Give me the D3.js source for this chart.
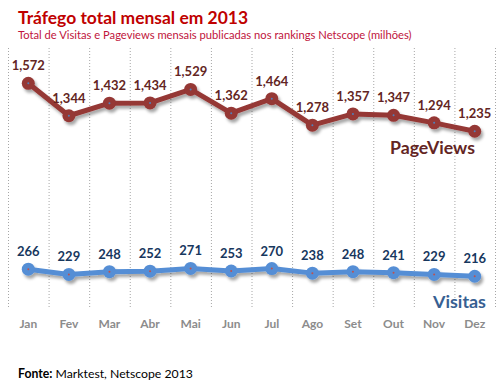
<!DOCTYPE html>
<html lang="pt">
<head>
  <meta charset="UTF-8" />
  <title>Tráfego total mensal em 2013</title>
  <script src="https://d3js.org/d3.v7.min.js"></script>
  <style>
    body { margin: 0; background: #fff; }
    svg { display: block; font-family: Lato, "Open Sans", sans-serif; }
  </style>
</head>
<body>
  <svg width="499" height="388"></svg>
  <script>
    const months = ["Jan", "Fev", "Mar", "Abr", "Mai", "Jun", "Jul", "Ago", "Set", "Out", "Nov", "Dez"];
    const pageviews = [1572, 1344, 1432, 1434, 1529, 1362, 1464, 1278, 1357, 1347, 1294, 1235];
    const visitas = [266, 229, 248, 252, 271, 253, 270, 238, 248, 241, 229, 216];

    const svg = d3.select("svg");

    const x = d3.scaleBand().domain(months).range([8, 495]);
    const y = d3.scaleLinear().domain([0, 1820]).range([307, 48]);
    const cx = d => x(d) + x.bandwidth() / 2;

    // shrink/grow a text to a wanted width
    function fit(t, w) {
      const len = t.node().getComputedTextLength();
      const fs = parseFloat(t.attr("font-size"));
      t.attr("font-size", (fs * w / len).toFixed(2));
    }

    // drop shadow under the lines
    const f = svg.append("defs").append("filter").attr("id", "shadow")
      .attr("x", "-10%").attr("y", "-50%").attr("width", "120%").attr("height", "200%");
    f.append("feDropShadow").attr("dx", 2).attr("dy", 3).attr("stdDeviation", 1.5)
      .attr("flood-color", "#000").attr("flood-opacity", 0.35);

    // dotted verticals
    svg.append("g").selectAll("line")
      .data(d3.range(months.length + 1))
      .join("line")
      .attr("x1", i => 8 + i * x.bandwidth() + 0.5)
      .attr("x2", i => 8 + i * x.bandwidth() + 0.5)
      .attr("y1", y.range()[1])
      .attr("y2", y.range()[0])
      .attr("stroke", "#a6a6a6")
      .attr("stroke-dasharray", "1,2");

    // month labels
    svg.append("g").selectAll("text")
      .data(months)
      .join("text")
      .attr("x", d => cx(d))
      .attr("y", 328)
      .attr("text-anchor", "middle")
      .attr("font-size", 12)
      .attr("font-weight", "bold")
      .attr("fill", "#8c8c8c")
      .text(d => d);

    function series(vals, color, dot, labelColor) {
      const data = months.map((m, i) => ({ m, v: vals[i] }));
      const g = svg.append("g").attr("filter", "url(#shadow)");
      g.append("path")
        .datum(data)
        .attr("fill", "none")
        .attr("stroke", color)
        .attr("stroke-width", 5)
        .attr("stroke-linejoin", "round")
        .attr("d", d3.line().x(d => cx(d.m)).y(d => y(d.v)));
      g.selectAll("circle")
        .data(data)
        .join("circle")
        .attr("cx", d => cx(d.m))
        .attr("cy", d => y(d.v))
        .attr("r", 6.5)
        .attr("fill", color);
      svg.append("g").selectAll("circle")
        .data(data)
        .join("circle")
        .attr("cx", d => cx(d.m))
        .attr("cy", d => y(d.v))
        .attr("r", 1)
        .attr("fill", dot);
      svg.append("g").selectAll("text")
        .data(data)
        .join("text")
        .attr("x", d => cx(d.m))
        .attr("y", d => y(d.v) - 13)
        .attr("text-anchor", "middle")
        .attr("font-size", 13)
        .attr("font-weight", "bold")
        .attr("fill", labelColor)
        .text(d => d3.format(",")(d.v));
    }

    series(pageviews, "#953735", "#4f81bd", "#632523");
    series(visitas, "#558ed5", "#c0504d", "#17375e");

    const pv = svg.append("text")
      .attr("x", 390).attr("y", 154)
      .attr("font-size", 17).attr("font-weight", "bold")
      .attr("fill", "#632523").text("PageViews");
    fit(pv, 85);
    const vi = svg.append("text")
      .attr("x", 433).attr("y", 308)
      .attr("font-size", 17).attr("font-weight", "bold")
      .attr("fill", "#376092").text("Visitas");
    fit(vi, 53);

    // titles
    const t1 = svg.append("text")
      .attr("x", 18).attr("y", 24)
      .attr("font-size", 19).attr("font-weight", "bold")
      .attr("fill", "#c00000").text("Tráfego total mensal em 2013");
    fit(t1, 230);
    const t2 = svg.append("text")
      .attr("x", 18).attr("y", 39)
      .attr("font-size", 11)
      .attr("fill", "#c0143c").text("Total de Visitas e Pageviews mensais publicadas nos rankings Netscope (milhões)");
    fit(t2, 394);

    const src = svg.append("text")
      .attr("x", 18).attr("y", 378)
      .attr("font-size", 11.5).attr("fill", "#000");
    src.append("tspan").attr("font-weight", "bold").text("Fonte:");
    src.append("tspan").text(" Marktest, Netscope 2013");
    fit(src, 175);
  </script>
</body>
</html>
